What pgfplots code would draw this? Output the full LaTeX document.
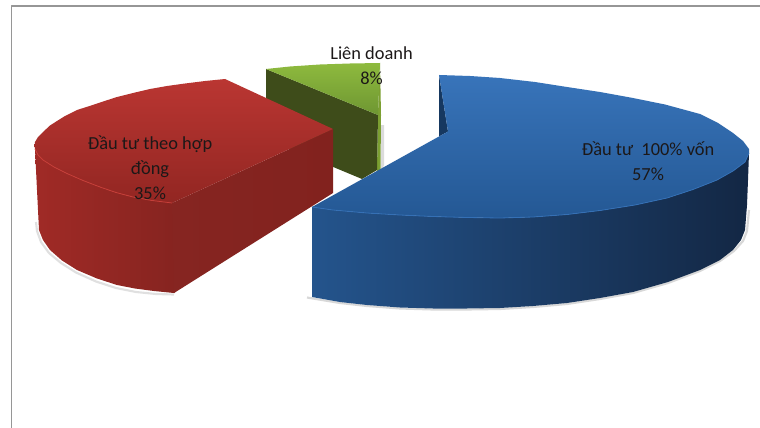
\documentclass[border=0pt]{standalone}
\usepackage{fontspec}
\setmainfont{Carlito}
\usepackage{pgfplots}
\usepackage{pgfplotstable}
\pgfplotsset{compat=1.18}

\definecolor{redTopA}{RGB}{186,54,50}
\definecolor{redTopB}{RGB}{146,38,34}
\definecolor{redSideA}{RGB}{160,42,38}
\definecolor{redSideB}{RGB}{134,36,32}
\definecolor{redCutA}{RGB}{134,37,33}
\definecolor{redCutB}{RGB}{130,34,30}
\definecolor{redEdge}{RGB}{198,62,56}
\definecolor{blueTopA}{RGB}{56,116,186}
\definecolor{blueTopB}{RGB}{36,88,148}
\definecolor{blueSideA}{RGB}{36,84,140}
\definecolor{blueSideB}{RGB}{19,39,68}
\definecolor{blueEdge}{RGB}{52,112,182}
\definecolor{blueCut}{RGB}{22,56,96}
\definecolor{greenTopA}{RGB}{142,186,62}
\definecolor{greenTopB}{RGB}{110,150,50}
\definecolor{greenCut}{RGB}{62,76,26}
\definecolor{greenEdge}{RGB}{124,160,50}
\definecolor{frameGray}{RGB}{150,150,150}
\definecolor{labelInk}{RGB}{28,24,24}

% Outline of each slice, in the picture's own pixel grid
\pgfplotstableread{
x y
266 69
290 66.5
320 64.5
350 63.5
380 63
378 115
}\greenTop
\pgfplotstableread{
x y
266 69
378 115
377 170
362 179
266 139
}\greenCut
\pgfplotstableread{
x y
378 114
380 63
381 115
380.5 171
377 171
}\greenRim
\pgfplotstableread{
x y
381 125
384 125
384 165
381 172
}\greenShade

\pgfplotstableread{
x y
225 79
205 81
185 83.5
167 86
150 89
133 93
117 97
100 102.5
88 106.5
77 110
65 116
57 121
50 125.5
43 132
38 137
35 142
34.5 146
35 149
38 155
43 160
54 167
67 173.5
83 180.5
100 187
116 192.5
133 197
152 200.5
172 203
333 129
}\redTop
\pgfplotstableread{
x y
35 149
38 155
43 160
54 167
67 173.5
83 180.5
100 187
116 192.5
133 197
152 200.5
176 203
176 291.5
174 293
154 291
135 288.5
117 285
97 278.5
77 270
62 260.5
50 250
43 240
39 230
37 190
}\redSide
\pgfplotstableread{
x y
35 149
38 155
43 160
54 167
67 173.5
83 180.5
100 187
116 192.5
133 197
152 200.5
172 203
}\redRim
\pgfplotstableread{
x y
172 203
333 129
333 193
174 293
}\redCut
\pgfplotstableread{
x y
36 222
37 231
41 242
49 253
61 263
76 272.5
96 281.5
116 288
136 292
156 294
174 294.5
}\redShade

\pgfplotstableread{
x y
439 75
470 76
500 78
535 82
567 87
600 92
633 98
665 104.5
700 114
718 123
733 133
743 141
749 149
749 153
745 162
733 171
717 180
693 189.5
667 198
635 205
600 210.5
567 214.5
533 217
500 218
467 217.5
433 216.5
400 215
367 213
333 210
312 207
448 131.5
}\blueTop
\pgfplotstableread{
x y
439 75
448 131.5
439 136.5
}\blueCut
\pgfplotstableread{
x y
749 153
745 162
733 171
717 180
693 189.5
667 198
635 205
600 210.5
567 214.5
533 217
500 218
467 217.5
433 216.5
400 215
367 213
333 210
312 207
312 297
340 302
367 305
400 307.5
433 308.5
467 308.5
500 308
533 306
567 303
600 298
633 292
668 282
700 270
720 260
733 250
741 240
745 230
747 205
748 180
}\blueSide
\pgfplotstableread{
x y
749 153
745 162
733 171
717 180
693 189.5
667 198
635 205
600 210.5
567 214.5
533 217
500 218
467 217.5
433 216.5
400 215
367 213
333 210
312 207
}\blueRim
\pgfplotstableread{
x y
307 297.5
340 303
367 306
400 308.5
433 309.5
467 309.5
500 309
533 307
567 304
600 299
633 293
668 283
700 271
720 261
734 251
743 241
747 231
749 210
}\blueShade

\begin{document}
\begin{tikzpicture}
\begin{axis}[
  scale only axis, width=570pt, height=321pt,
  xmin=0, xmax=760, ymin=0, ymax=428, y dir=reverse,
  hide axis, clip=true,
  line join=round,
]
  % page and chart frame
  \addplot[draw=none, fill=white] coordinates {(0,0) (760,0) (760,428) (0,428)} -- cycle;
  \addplot[frameGray, line width=1.1pt] coordinates {(11.5,428) (11.5,6) (760,6)};

  % joint-venture slice, furthest back
  \addplot[draw=none, fill=black!14] table[x=x,y=y] {\greenShade} -- cycle;
  \addplot[draw=none, fill=greenEdge] table[x=x,y=y] {\greenRim} -- cycle;
  \addplot[draw=none, fill=greenCut] table[x=x,y=y] {\greenCut} -- cycle;
  \addplot[draw=none, top color=greenTopA, bottom color=greenTopB] table[x=x,y=y] {\greenTop} -- cycle;

  % contract slice
  \addplot[black!30, line width=1.6pt, opacity=.4] table[x=x,y=y] {\redShade};
  \addplot[draw=none, left color=redSideA, right color=redSideB] table[x=x,y=y] {\redSide} -- cycle;
  \addplot[draw=none, left color=redCutA, right color=redCutB] table[x=x,y=y] {\redCut} -- cycle;
  \addplot[draw=none, top color=redTopA, bottom color=redTopB] table[x=x,y=y] {\redTop} -- cycle;
  \addplot[redEdge, line width=.6pt] table[x=x,y=y] {\redRim};

  % wholly owned slice, in front
  \addplot[black!30, line width=1.6pt, opacity=.5] table[x=x,y=y] {\blueShade};
  \addplot[draw=none, fill=blueCut] table[x=x,y=y] {\blueCut} -- cycle;
  \addplot[draw=none, left color=blueSideA, right color=blueSideB] table[x=x,y=y] {\blueSide} -- cycle;
  \addplot[draw=none, top color=blueTopA, bottom color=blueTopB] table[x=x,y=y] {\blueTop} -- cycle;
  \addplot[blueEdge, line width=.6pt] table[x=x,y=y] {\blueRim};

  % slice labels
  \begin{scope}[every node/.style={align=center, text=labelInk, font=\fontsize{13.8pt}{18.8pt}\selectfont, inner sep=0pt}]
    \node at (axis cs:150,167.5) {Đầu tư theo hợp\\đồng\\35\%};
    \node at (axis cs:371.5,65.5) {Liên doanh\\8\%};
    \node at (axis cs:648,161.5) {Đầu tư\ \ 100\% vốn\\57\%};
  \end{scope}
\end{axis}
\end{tikzpicture}
\end{document}
